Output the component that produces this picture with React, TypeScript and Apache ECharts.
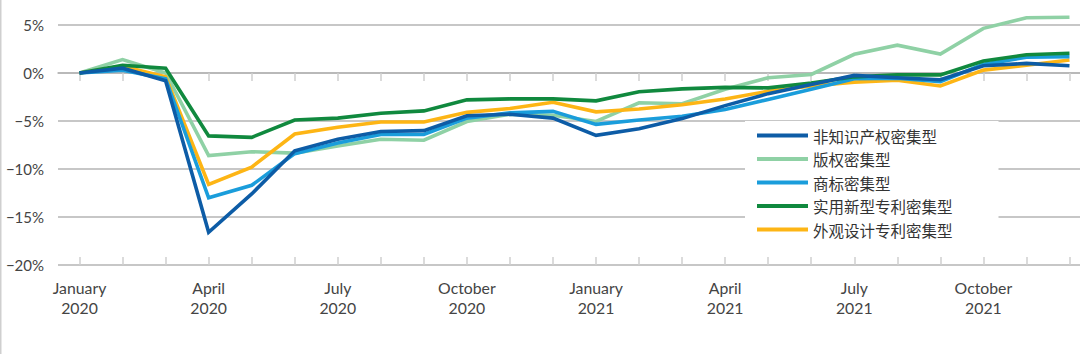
import React, { useEffect, useRef } from "react";
import * as echarts from "echarts";

const months = [
  "January\n2020", "Feb 2020", "Mar 2020", "April\n2020", "May 2020", "Jun 2020",
  "July\n2020", "Aug 2020", "Sep 2020", "October\n2020", "Nov 2020", "Dec 2020",
  "January\n2021", "Feb 2021", "Mar 2021", "April\n2021", "May 2021", "Jun 2021",
  "July\n2021", "Aug 2021", "Sep 2021", "October\n2021", "Nov 2021", "Dec 2021",
];

const yTicks = [-20, -15, -10, -5, 0, 5];

const nonIP = [0, 0.5, -0.8, -16.6, -12.6, -8.1, -6.9, -6.1, -6.0, -4.45, -4.3, -4.7, -6.5, -5.8, -4.75, -3.4, -2.15, -1.2, -0.25, -0.5, -0.7, 0.75, 1.0, 0.75];
const copyright = [0, 1.4, 0.0, -8.6, -8.2, -8.35, -7.6, -6.9, -7.0, -5.05, -4.3, -4.4, -5.05, -3.1, -3.2, -1.7, -0.5, -0.15, 1.95, 2.9, 1.97, 4.65, 5.75, 5.8];
const trademark = [0, 0.3, -0.6, -13.0, -11.7, -8.4, -7.3, -6.4, -6.4, -4.7, -4.15, -4.0, -5.35, -4.9, -4.5, -3.8, -2.75, -1.7, -0.6, -0.55, -0.9, 0.9, 1.65, 1.7];
const utility = [0, 0.8, 0.5, -6.55, -6.7, -4.9, -4.7, -4.2, -3.95, -2.8, -2.7, -2.7, -2.9, -1.95, -1.65, -1.5, -1.55, -1.05, -0.4, -0.2, -0.2, 1.25, 1.9, 2.05];
const design = [0, 0.7, -0.4, -11.6, -9.8, -6.35, -5.65, -5.1, -5.1, -4.1, -3.7, -3.05, -4.05, -3.75, -3.3, -2.7, -1.9, -1.35, -0.95, -0.75, -1.35, 0.3, 0.8, 1.35];

const names = ["非知识产权密集型", "版权密集型", "商标密集型", "实用新型专利密集型", "外观设计专利密集型"];
const colors = ["#0D5CA6", "#8FD1A5", "#1A9DDB", "#10893E", "#FDB515"];

const FONT = "Lato, 'Noto Sans CJK SC', sans-serif";

export default function App() {
  const ref = useRef<HTMLDivElement>(null);
  useEffect(() => {
    document.body.style.overflow = "hidden";
    const chart = echarts.init(ref.current!, undefined, { renderer: "svg" });
    const mk = (i: number, data: number[]) => ({
      name: names[i],
      type: "line",
      data,
      clip: false,
      showSymbol: false,
      symbol: "none",
      lineStyle: { color: colors[i], width: 3.6, join: "miter", cap: "butt" },
      itemStyle: { color: colors[i] },
    });
    chart.setOption({
      animation: false,
      textStyle: { fontFamily: FONT },
      grid: { left: 58, right: 0, top: 25, bottom: 89, containLabel: false },
      legend: {
        orient: "vertical",
        left: 745,
        top: 121,
        data: names,
        icon: "rect",
        itemWidth: 51,
        itemHeight: 4,
        itemGap: 4.5,
        backgroundColor: "#fff",
        padding: [5, 46, 5, 12],
        textStyle: { fontSize: 15.5, color: "#333", lineHeight: 19, fontFamily: "'Noto Sans CJK SC', sans-serif" },
      },
      graphic: [
        { type: "line", shape: { x1: 0.75, y1: 0, x2: 0.75, y2: 354 }, style: { stroke: "#cfcfcf", lineWidth: 1.5 } },
      ],
      xAxis: [
        {
          type: "category",
          data: months,
          boundaryGap: true,
          axisLine: { lineStyle: { color: "#b5b5b5", width: 1.5 } },
          axisTick: { show: true, alignWithLabel: true, interval: 0, length: 8, lineStyle: { color: "#cfcfcf", width: 1.5 } },
          axisLabel: {
            interval: (i: number) => i % 3 === 0,
            color: "#444",
            fontSize: 15.8,
            lineHeight: 20,
            margin: 12,
            fontFamily: FONT,
          },
        },
        {
          type: "category",
          data: months,
          boundaryGap: true,
          position: "bottom",
          axisLine: { show: false },
          axisTick: { show: true, inside: true, alignWithLabel: true, interval: 0, length: 8, lineStyle: { color: "#cfcfcf", width: 1.5 } },
          axisLabel: { show: false },
        },
      ],
      yAxis: {
        type: "value",
        min: yTicks[0],
        max: yTicks[yTicks.length - 1],
        interval: 5,
        axisLine: { show: false },
        axisTick: { show: false },
        splitLine: { lineStyle: { color: "#b5b5b5", width: 1.5 } },
        axisLabel: {
          color: "#444",
          fontSize: 15,
          margin: 14,
          fontFamily: FONT,
          formatter: (v: number) => (v < 0 ? "\u2212" + Math.abs(v) + "%" : v + "%"),
        },
      },
      series: [
        mk(1, copyright),
        mk(4, design),
        mk(2, trademark),
        mk(3, utility),
        mk(0, nonIP),
      ],
    });
    return () => chart.dispose();
  }, []);
  return (
    <div
      ref={ref}
      style={{ position: "fixed", left: 0, top: 0, width: 1091, height: 354, background: "#fff" }}
    />
  );
}
